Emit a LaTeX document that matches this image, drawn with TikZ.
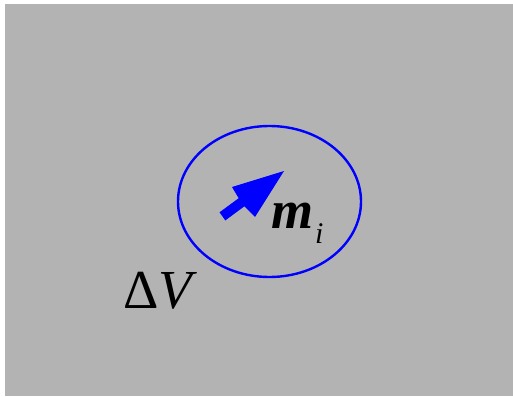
\documentclass[tikz,border=0pt]{standalone}
\usepackage{fontspec}
\usetikzlibrary{shapes.geometric}
\setmainfont{Liberation Serif}
\begin{document}
\begin{tikzpicture}[x=1pt,y=-1pt,
  lbl/.style={inner sep=0pt,anchor=base west},
  bluearrow/.style={fill=blue,draw=none}]
\useasboundingbox (0,0) rectangle (513,396);
\fill[fill={rgb,255:red,179;green,179;blue,179}] (5,4) rectangle (513,396);
\node[draw=blue,line width=2.4pt,ellipse,minimum width=183,minimum height=151,inner sep=0pt] (cell) at (269.5,201.5) {};
% arrow as polygon
\coordinate (t1) at (219.5,212.3);
\coordinate (t2) at (225.3,220.4);
\coordinate (b2) at (244.4,206.3);
\coordinate (b1) at (238.7,198.2);
\coordinate (h1) at (232,187);
\coordinate (h2) at (255,217);
\coordinate (tip) at (284,171);
\fill[bluearrow] (t1) -- (b1) -- (h1) -- (tip) -- (h2) -- (b2) -- (t2) -- cycle;
\node[lbl] (m) at (271,228) {\fontsize{54}{54}\selectfont\textbf{\textit{m}}};
\node[lbl] (i) at (315,243) {\fontsize{30}{30}\selectfont\textit{i}};
\node[lbl] (dv) at (123,308) {\fontsize{55}{55}\selectfont Δ\textit{V}};
\end{tikzpicture}
\end{document}
